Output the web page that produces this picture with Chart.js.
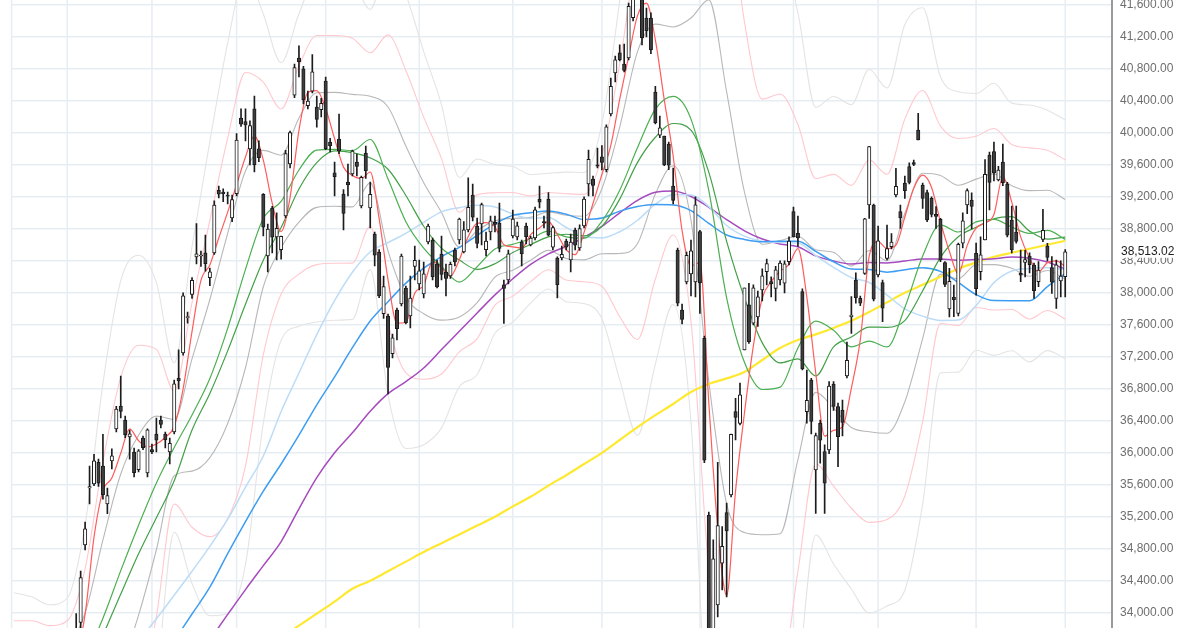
<!DOCTYPE html>
<html>
<head>
<meta charset="utf-8">
<script src="https://cdn.jsdelivr.net/npm/chart.js@4.4.1/dist/chart.umd.min.js"></script>
<style>
  html, body { margin: 0; padding: 0; background: #fff; }
  #wrap { width: 1200px; height: 628px; }
</style>
</head>
<body>
<div id="wrap"><canvas id="chart" width="1200" height="628"></canvas></div>
<script>
// --- calendar ---
const holidays = ['2024-01-01', '2024-01-02', '2024-01-03', '2024-01-08', '2024-02-12', '2024-02-23',
  '2024-03-20', '2024-04-29', '2024-05-03', '2024-05-06', '2024-07-15', '2024-08-12',
  '2024-09-16', '2024-09-23', '2024-10-14', '2024-11-04'];
const firstDay = '2023-12-14';
const slotCount = 247;     // trading-day slots on the x axis (incl. empty ones at the right)
const firstCandle = 12;    // slot of 2024-01-04

// --- daily candles from 2024-01-04 to 2024-12-02 ---
const open = [
  33193, 33400, 33700, 33880, 34850, 35560, 35610, 35880, 35835, 35360,
  35900, 36300, 36585, 36410, 36200, 36010, 35790, 36185, 35750, 36040,
  36235, 36410, 36235, 36010, 36260, 36930, 37250, 37690, 37980, 38450,
  38460, 38500, 38190, 38500, 39280, 39260, 39220, 38935, 39240, 40185,
  40140, 39800, 40300, 39800, 39230, 38460, 39060, 38700, 38540, 38960,
  39610, 40470, 40935, 40800, 40340, 40520, 40320, 40290, 40646, 39885,
  39500, 39920, 39235, 39385, 39485, 39635, 39085, 39745, 39060, 38735,
  38510, 37740, 37710, 37240, 37785, 37860, 38060, 37710, 38330, 38110,
  37985, 38635, 38660, 38360, 38485, 38260, 38210, 38535, 38660, 38510,
  38785, 39220, 38835, 38860, 38540, 38760, 38880, 38870, 38100, 38160,
  38710, 38700, 38635, 38835, 38600, 38685, 39170, 38890, 39170, 38570,
  38435, 38435, 38645, 38410, 38785, 38560, 38835, 39360, 39420, 39600,
  39700, 39540, 40235, 40750, 41000, 40860, 40935, 41440, 41990, 41880,
  41435, 41435, 40510, 39970, 39960, 39860, 39335, 38535, 37785, 38135,
  38235, 38135, 38764, 37431, 35222, 32077, 34100, 34620, 35252, 35473,
  36514, 36368, 37285, 37850, 37620, 37700, 38035, 38265, 38140, 38056,
  38160, 38120, 38390, 39014, 38743, 38014, 36514, 36910, 35785, 36368,
  36014, 36035, 36860, 36577, 36535, 36960, 37700, 38160, 37931, 38243,
  39097, 39097, 38223, 38127, 38431, 38577, 39223, 39014, 39370, 39577,
  39627, 40035, 39347, 39252, 39181, 38980, 38918, 38377, 37800, 37943,
  37743, 38620, 39097, 39160, 38493, 38264, 38660, 39722, 39764, 39410,
  39635, 39360, 38910, 38760, 38243, 38380, 38460, 38347, 38139, 38668,
  38585, 38314, 37931, 38150, 38202
];
const high = [
  33568, 33600, 33990, 34520, 35135, 35835, 35980, 35920, 36230, 35560,
  36050, 36580, 36960, 36460, 36285, 36060, 36040, 36210, 36300, 36110,
  36435, 36460, 36260, 36185, 36910, 37287, 38000, 37760, 38190, 38865,
  38520, 38720, 38310, 39150, 39335, 39300, 39260, 39220, 39990, 40300,
  40300, 40150, 40460, 39900, 39240, 38860, 39080, 39000, 38710, 39780,
  40020, 40860, 41087, 40830, 40520, 40979, 40460, 40430, 40697, 39930,
  39635, 40235, 39290, 39610, 39785, 39735, 39460, 39835, 39385, 38760,
  38540, 38210, 37735, 37485, 37810, 38485, 38085, 38210, 38585, 38410,
  38385, 38860, 38685, 38410, 38710, 38360, 38385, 38560, 38935, 38890,
  39437, 39360, 38935, 39120, 38760, 38960, 38960, 39120, 38160, 38535,
  39035, 38885, 38660, 38870, 38710, 39070, 39335, 38960, 39252, 38835,
  38450, 38585, 38670, 38735, 38810, 38850, 39200, 39785, 39460, 39810,
  39839, 40100, 40685, 40960, 41100, 41110, 41620, 41900, 42426, 41990,
  41560, 41500, 40580, 40210, 39960, 39885, 39560, 38560, 37860, 38510,
  38660, 39200, 38780, 37460, 35260, 34911, 35880, 35077, 35370, 36235,
  36680, 36870, 38060, 38118, 38100, 38020, 38300, 38420, 38200, 38330,
  38400, 38400, 38700, 39070, 38960, 38050, 37035, 36930, 36245, 36410,
  36100, 36890, 36890, 36620, 36660, 37385, 37952, 38250, 37960, 38930,
  39830, 39110, 38835, 38160, 38848, 38740, 39556, 39095, 39460, 39625,
  39660, 40243, 39370, 39285, 39200, 39077, 38930, 38390, 38306, 38097,
  38620, 39000, 39300, 39250, 38620, 38700, 39664, 39760, 39884, 39580,
  39860, 39380, 39085, 39085, 38535, 38530, 38500, 38370, 38389, 39043,
  38618, 38452, 38410, 38400, 38540
];
const low = [
  32693, 33050, 33600, 33800, 34785, 35360, 35590, 35580, 35420, 35240,
  35800, 36260, 36435, 36190, 35920, 35700, 35760, 36040, 35700, 35990,
  36010, 36310, 36060, 35860, 36235, 36800, 37220, 37620, 37930, 38360,
  38330, 38270, 38090, 38480, 39185, 39140, 39110, 38890, 39210, 40080,
  39900, 39600, 39510, 39640, 38710, 38260, 38500, 38410, 38420, 38940,
  39560, 40440, 40700, 40360, 40300, 40500, 40070, 40200, 39790, 39760,
  39210, 39740, 38785, 39210, 39460, 39460, 39060, 39430, 38810, 38335,
  37940, 37680, 36735, 37185, 37410, 37835, 37610, 37560, 38160, 38035,
  37935, 38610, 38160, 38060, 38160, 37960, 38180, 38335, 38610, 38500,
  38760, 38900, 38560, 38600, 38460, 38660, 38760, 38510, 37617, 38110,
  38685, 38660, 38335, 38610, 38585, 38660, 39060, 38810, 38710, 38535,
  37935, 38410, 38535, 38260, 38535, 38530, 38810, 39210, 39210, 39560,
  39535, 39510, 40210, 40635, 40900, 40760, 40910, 41400, 41880, 41100,
  41200, 40990, 40110, 39940, 39590, 39540, 39110, 37835, 37610, 38110,
  37960, 37950, 37743, 35877, 31156, 31982, 33950, 34285, 34200, 35450,
  36160, 36350, 37285, 37368, 37600, 37580, 37900, 38100, 37950, 37900,
  38100, 38000, 38350, 38700, 38580, 37035, 36370, 36235, 35243, 35870,
  35243, 35990, 36530, 35827, 36210, 36935, 37493, 37870, 37840, 38230,
  38930, 37900, 38200, 37639, 38410, 38550, 39200, 38805, 39180, 39360,
  39590, 39910, 39055, 38890, 38950, 38805, 38390, 38077, 37700, 37702,
  37710, 38560, 38990, 38800, 37970, 38160, 38660, 39035, 39400, 39400,
  39340, 38700, 38500, 38620, 38139, 38200, 38250, 37931, 38077, 38640,
  38400, 37993, 37806, 37950, 37950
];
const close = [
  33288, 33377, 33763, 34441, 35049, 35577, 35901, 35619, 35477, 35466,
  35963, 36546, 36517, 36226, 36236, 35751, 36026, 36065, 36286, 36011,
  36158, 36354, 36160, 36119, 36863, 36897, 37963, 37703, 38157, 38487,
  38470, 38363, 38262, 39098, 39233, 39239, 39208, 39166, 39910, 40109,
  40097, 40090, 39598, 39688, 38820, 38797, 38695, 38807, 38707, 39740,
  40003, 40815, 40888, 40414, 40398, 40762, 40168, 40369, 39803, 39838,
  39451, 39773, 38992, 39347, 39773, 39581, 39442, 39523, 39232, 38471,
  37961, 38079, 37068, 37438, 37552, 38460, 37628, 37934, 38405, 38274,
  38236, 38835, 38202, 38073, 38229, 38179, 38356, 38385, 38920, 38787,
  39069, 38946, 38617, 39103, 38646, 38900, 38855, 38556, 38054, 38487,
  38923, 38837, 38490, 38703, 38683, 39038, 39134, 38876, 38720, 38814,
  38102, 38482, 38570, 38633, 38596, 38804, 39173, 39667, 39341, 39583,
  39631, 40074, 40580, 40913, 40912, 40780, 41580, 41831, 42224, 41190,
  41275, 41040, 40126, 40063, 39599, 39594, 39154, 37869, 37667, 38468,
  38525, 39101, 38126, 35909, 31458, 34675, 35089, 34831, 35025, 36232,
  36442, 36726, 38062, 37388, 38062, 37951, 38211, 38364, 38110, 38288,
  38371, 38362, 38647, 38700, 38686, 37047, 36657, 36391, 36215, 36159,
  35619, 36833, 36581, 36203, 36380, 37155, 37723, 37940, 37870, 38925,
  39829, 37919, 38651, 37808, 38552, 38635, 39332, 38937, 39277, 39380,
  39605, 39910, 39180, 38911, 38981, 38954, 38411, 38104, 38143, 37913,
  38605, 38900, 39277, 39081, 38053, 38474, 39480, 39381, 39500, 39533,
  39376, 38721, 38535, 38642, 38220, 38414, 38352, 38026, 38283, 38780,
  38442, 38134, 38349, 38208, 38513.02
];

// --- 5-day average, read every second candle from slot 12 ---
const ma5 = [
  33455, 33486, 33984, 34946, 35525, 35685, 35994, 36298, 36151, 36073,
  36109, 36194, 36331, 36800, 37517, 38156, 38348, 38685, 39008, 39351,
  39698, 39961, 39659, 39120, 38765, 39190, 40031, 40504, 40526, 40300,
  39926, 39571, 39467, 39427, 39510, 38926, 38162, 37620, 37629, 37996,
  38095, 38390, 38315, 38208, 38414, 38703, 38868, 38876, 38824, 38602,
  38575, 38558, 38727, 38810, 38890, 38729, 38538, 38477, 38755, 39116,
  39479, 39842, 40422, 40953, 41465, 41620, 41162, 40412, 39707, 38777,
  38337, 38377, 36624, 35051, 34216, 35524, 36497, 37336, 37935, 38140,
  38269, 38356, 38553, 37947, 36999, 36208, 36281, 36323, 36808, 37414,
  38457, 38639, 38552, 38596, 38947, 39306, 39470, 39317, 38887, 38519,
  38235, 38593, 38809, 38873, 38978, 39454, 39133, 38699, 38433, 38259,
  38377, 38398, 38329
];

// --- slower lines, read every fourth slot from slot 0 ---
const ma20 = [
  33200, 33300, 33320, 33330, 33450, 33933, 34527, 35095, 35623, 36066,
  36473, 36928, 37555, 38293, 38928, 39142, 39535, 39784, 39793, 39777,
  39916, 39422, 38889, 38558, 38331, 38134, 38326, 38548, 38606, 38675,
  38771, 38699, 38684, 38894, 39282, 39815, 40296, 40456, 40171, 39277,
  37937, 37131, 36791, 36821, 37311, 37646, 37532, 37325, 37396, 37323,
  37816, 38461, 38850, 38760, 38886, 38919, 38823, 38742, 38780, 38668
];
const ma25 = [
  null, null, null, null, null, 33718, 34234, 34738, 35189, 35650,
  36284, 36741, 37274, 37856, 38408, 38817, 39298, 39628, 39774, 39753,
  39686, 39544, 39216, 38832, 38558, 38409, 38293, 38364, 38504, 38603,
  38700, 38732, 38712, 38830, 39171, 39630, 39944, 40116, 40033, 39506,
  38643, 37937, 37374, 37124, 37174, 36960, 37325, 37447, 37571, 37569,
  37653, 38025, 38442, 38700, 38819, 38924, 38952, 38771, 38671, 38696
];
const ma60 = [
  null, null, null, null, null, null, null, 33650, 33925, 34220,
  34520, 34830, 35170, 35570, 35960, 36516, 36997, 37478, 37903, 38257,
  38510, 38629, 38742, 38881, 39012, 39064, 39095, 39073, 38986, 38928,
  38940, 38816, 38707, 38686, 38763, 38907, 39107, 39229, 39224, 39078,
  38841, 38708, 38643, 38629, 38623, 38466, 38319, 38190, 38129, 37970,
  37800, 37708, 37655, 37659, 37840, 38127, 38272, 38305, 38312, 38292
];
const ma75 = [
  null, null, null, null, null, null, null, null, null, 33650,
  33985, 34320, 34740, 35140, 35520, 35860, 36220, 36600, 36950, 37314,
  37647, 37889, 38121, 38308, 38453, 38568, 38719, 38862, 38968, 39000,
  39021, 38983, 38916, 38934, 39021, 39078, 39103, 39097, 39028, 38867,
  38722, 38667, 38638, 38644, 38644, 38518, 38388, 38297, 38292, 38257,
  38289, 38313, 38268, 38130, 37978, 37903, 37902, 37900, 38078, 38239
];
const ma100 = [
  null, null, null, null, null, null, null, null, null, null,
  null, 33660, 33980, 34290, 34590, 34890, 35300, 35690, 36000, 36250,
  36520, 36740, 36890, 37060, 37290, 37520, 37748, 37974, 38175, 38355,
  38487, 38582, 38692, 38829, 38999, 39156, 39256, 39272, 39204, 39068,
  38915, 38775, 38673, 38610, 38575, 38461, 38397, 38360, 38378, 38374,
  38397, 38424, 38421, 38408, 38416, 38426, 38448, 38433, 38386, 38293
];
const ma200 = [
  null, null, null, null, null, null, null, null, null, null,
  null, null, null, null, null, 33690, 33840, 33990, 34140, 34300,
  34400, 34520, 34640, 34760, 34870, 34980, 35090, 35200, 35330, 35450,
  35590, 35720, 35860, 36000, 36160, 36320, 36470, 36610, 36760, 36860,
  36930, 37010, 37160, 37310, 37410, 37480, 37560, 37650, 37760, 37880,
  38000, 38100, 38200, 38300, 38380, 38450, 38500, 38550, 38600, 38650
];
const bbUp1 = [
  33550, 33600, 33580, 33615, 34000, 34911, 35735, 36220, 36458, 36419,
  37175, 37916, 38744, 39523, 39780, 39720, 40186, 40500, 40505, 40480,
  40458, 40323, 39834, 39377, 39004, 38570, 38775, 38899, 38930, 38943,
  39012, 38969, 38957, 39300, 40072, 41014, 41358, 41323, 41435, 41663,
  40511, 39259, 38606, 38653, 38707, 38537, 38506, 38334, 38529, 38402,
  38994, 39495, 39467, 39344, 39421, 39486, 39339, 39277, 39281, 39165
];
const bbLo1 = [
  32850, 33000, 33060, 33045, 32900, 32955, 33319, 33970, 34788, 35713,
  35771, 35940, 36366, 37063, 38076, 38564, 38884, 39068, 39081, 39074,
  39374, 38521, 37944, 37739, 37658, 37698, 37877, 38197, 38282, 38407,
  38530, 38429, 38411, 38488, 38492, 38616, 39234, 39589, 38907, 36891,
  35363, 35003, 34976, 34989, 35915, 36755, 36558, 36316, 36263, 36244,
  36638, 37427, 38233, 38176, 38351, 38352, 38307, 38207, 38279, 38171
];
const bbUp2 = [
  33900, 33900, 33840, 33900, 34550, 35889, 36943, 37345, 37293, 36772,
  37877, 38904, 39933, 40753, 40632, 40298, 40837, 41216, 41217, 41183,
  41000, 41224, 40779, 40196, 39677, 39006, 39224, 39250, 39254, 39211,
  39253, 39239, 39230, 39706, 40862, 42213, 42420, 42190, 42699, 44049,
  43085, 41387, 40421, 40485, 40103, 39428, 39480, 39343, 39662, 39481,
  40172, 40529, 40084, 39928, 39956, 40053, 39855, 39812, 39782, 39662
];
const bbLo2 = [
  32500, 32700, 32800, 32760, 32350, 31977, 32111, 32845, 33953, 35360,
  35069, 34952, 35177, 35833, 37224, 37986, 38233, 38352, 38369, 38371,
  38832, 37620, 36999, 36920, 36985, 37262, 37428, 37846, 37958, 38139,
  38289, 38159, 38138, 38082, 37702, 37417, 38172, 38722, 37643, 34505,
  32789, 32875, 33161, 33157, 34519, 35864, 35584, 35307, 35130, 35165,
  35460, 36393, 37616, 37592, 37816, 37785, 37791, 37672, 37778, 37674
];
const bbUp3 = [
  34250, 34200, 34100, 34185, 35100, 36867, 38151, 38470, 38128, 37125,
  38579, 39892, 41122, 41983, 41484, 40876, 41488, 41932, 41929, 41886,
  41542, 42125, 41724, 41015, 40350, 39442, 39673, 39601, 39578, 39479,
  39494, 39509, 39503, 40112, 41652, 43412, 43482, 43057, 43963, 46435,
  45659, 43515, 42236, 42317, 41499, 40319, 40454, 40352, 40795, 40560,
  41350, 41563, 40701, 40512, 40491, 40620, 40371, 40347, 40283, 40159
];
const bbLo3 = [
  32150, 32400, 32540, 32475, 31800, 30999, 30903, 31720, 33118, 35007,
  34367, 33964, 33988, 34603, 36372, 37408, 37582, 37636, 37657, 37668,
  38290, 36719, 36054, 36101, 36312, 36826, 36979, 37495, 37634, 37871,
  38048, 37889, 37865, 37676, 36912, 36218, 37110, 37855, 36379, 32119,
  30215, 30747, 31346, 31325, 33123, 34973, 34610, 34298, 33997, 34086,
  34282, 35359, 36999, 37008, 37281, 37218, 37275, 37137, 37277, 37177
];

// --- price axis ---
const yTicks = [34000, 34400, 34800, 35200, 35600, 36000, 36400, 36800, 37200, 37600,
  38000, 38400, 38800, 39200, 39600, 40000, 40400, 40800, 41200, 41600];
const yMin = 33810;
const yMax = 41660;

// build the x categories
function tradingDays(start, count) {
  const out = [];
  const d = new Date(start + 'T00:00:00Z');
  while (out.length < count) {
    const iso = d.toISOString().slice(0, 10);
    const wd = d.getUTCDay();
    if (wd !== 0 && wd !== 6 && !holidays.includes(iso)) out.push(iso);
    d.setUTCDate(d.getUTCDate() + 1);
  }
  return out;
}
const labels = tradingDays(firstDay, slotCount);
const monthStarts = [];
labels.forEach((d, i) => {
  if (i > 0 && d.slice(0, 7) !== labels[i - 1].slice(0, 7)) monthStarts.push(i);
});

const N = labels.length;
const bodyData = new Array(N).fill(null);
const wickData = new Array(N).fill(null);
const bodyFill = new Array(N).fill('#ffffff');
close.forEach((c, i) => {
  const s = firstCandle + i;
  bodyData[s] = [open[i], c];
  wickData[s] = [low[i], high[i]];
  bodyFill[s] = c >= open[i] ? '#ffffff' : '#3e3e3e';
});

const ma5Slots = ma5.map((_, j) => firstCandle + 2 * j);
const lineSlots = ma20.map((_, k) => 4 * k);

function place(slots, values) {
  const arr = new Array(N).fill(null);
  slots.forEach((s, j) => { if (values[j] != null) arr[s] = values[j]; });
  return arr;
}
function lineSet(slots, values, color, width, order) {
  return {
    type: 'line', data: place(slots, values), borderColor: color, borderWidth: width,
    pointRadius: 0, pointHoverRadius: 0, spanGaps: true, fill: false, order: order,
    cubicInterpolationMode: 'monotone'
  };
}

const fmt = v => v.toLocaleString('en-US', { minimumFractionDigits: 2, maximumFractionDigits: 2 });
const fontFamily = '"Liberation Sans", Arial, Helvetica, sans-serif';

// month grid lines
const monthLines = {
  id: 'monthLines',
  beforeDatasetsDraw(chart) {
    const { ctx, chartArea: a, scales: { x } } = chart;
    ctx.save();
    ctx.strokeStyle = '#e6edf3';
    ctx.lineWidth = 1.5;
    ctx.beginPath();
    ctx.moveTo(a.left, a.top);
    ctx.lineTo(a.left, a.bottom);
    monthStarts.forEach(s => {
      const px = x.getPixelForValue(s);
      ctx.moveTo(px, a.top);
      ctx.lineTo(px, a.bottom);
    });
    ctx.stroke();
    ctx.restore();
  }
};

// last price label on the axis
const lastTag = {
  id: 'lastTag',
  afterDraw(chart) {
    const { ctx, chartArea: a, scales: { y } } = chart;
    const v = close[close.length - 1];
    const py = y.getPixelForValue(v);
    ctx.save();
    ctx.fillStyle = '#ffffff';
    ctx.fillRect(a.right + 2, py - 8, 76, 14);
    ctx.fillStyle = '#1e1e1e';
    ctx.font = '12px ' + fontFamily;
    ctx.textBaseline = 'middle';
    ctx.textAlign = 'left';
    ctx.fillText(fmt(v), a.right + 9, py);
    ctx.restore();
  }
};

new Chart(document.getElementById('chart'), {
  type: 'bar',
  data: {
    labels: labels,
    datasets: [
      lineSet(ma5Slots, ma5, '#ff5c5c', 1.2, 2),
      lineSet(lineSlots, ma20, '#4caf50', 1.2, 3),
      lineSet(lineSlots, ma25, '#43a047', 1.2, 3),
      lineSet(lineSlots, ma75, '#3d9df2', 1.5, 4),
      lineSet(lineSlots, ma60, '#bcdcf7', 1.5, 5),
      lineSet(lineSlots, ma100, '#a64bbd', 1.5, 5),
      lineSet(lineSlots, ma200, '#ffe930', 2.2, 6),
      lineSet(lineSlots, bbUp1, '#b8b8b8', 1.1, 7),
      lineSet(lineSlots, bbLo1, '#b8b8b8', 1.1, 7),
      lineSet(lineSlots, bbUp2, '#ffc9cf', 1.1, 8),
      lineSet(lineSlots, bbLo2, '#ffc9cf', 1.1, 8),
      lineSet(lineSlots, bbUp3, '#e4e4e4', 1.1, 9),
      lineSet(lineSlots, bbLo3, '#e4e4e4', 1.1, 9),
      {
        type: 'bar', data: wickData, backgroundColor: '#1c1c1c', borderWidth: 0,
        barThickness: 1, grouped: false, order: 1
      },
      {
        type: 'bar', data: bodyData, backgroundColor: bodyFill, borderColor: '#1a1a1a',
        borderWidth: 1, borderSkipped: false, barThickness: 3.4, minBarLength: 1,
        grouped: false, order: 0
      }
    ]
  },
  options: {
    responsive: false,
    animation: false,
    devicePixelRatio: 1,
    events: [],
    layout: { padding: { left: 11.6, right: 0, top: 0, bottom: 0 } },
    plugins: { legend: { display: false }, tooltip: { enabled: false } },
    scales: {
      x: { display: false, offset: true },
      y: {
        position: 'right',
        min: yMin,
        max: yMax,
        afterBuildTicks: s => { s.ticks = yTicks.map(v => ({ value: v })); },
        afterFit: s => { s.width = 88; s.paddingTop = 0; s.paddingBottom = 0; },
        grid: { color: '#e6edf3', lineWidth: 1.5, drawTicks: false },
        border: { display: true, color: '#9a9a9a', width: 2 },
        ticks: {
          padding: 8, autoSkip: false, color: '#6e6e6e',
          font: { size: 12, family: fontFamily },
          callback: v => fmt(v)
        }
      }
    }
  },
  plugins: [monthLines, lastTag]
});
</script>
</body>
</html>
